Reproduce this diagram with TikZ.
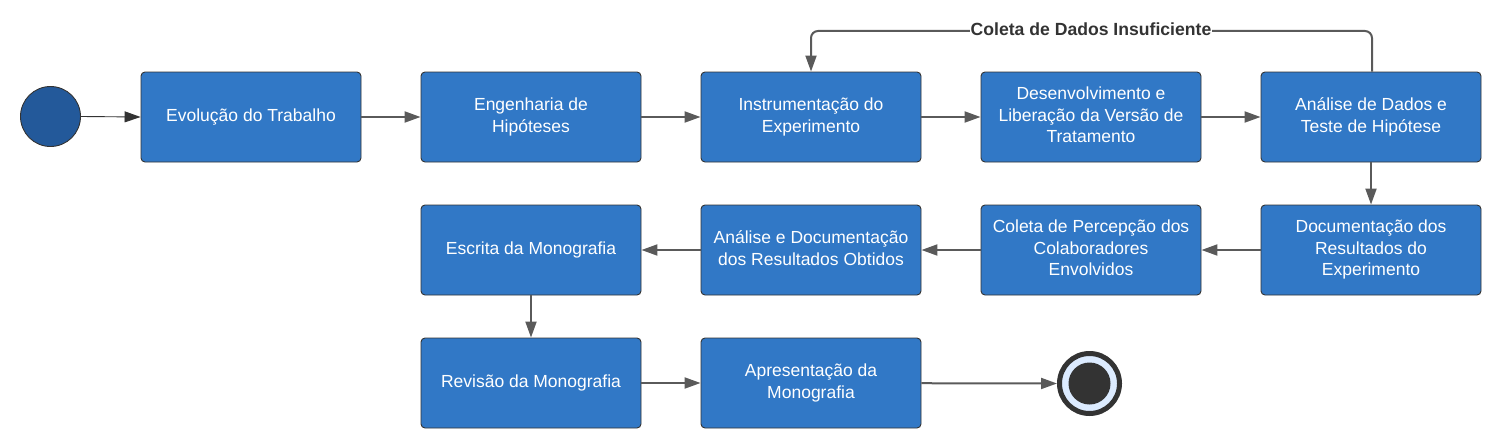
\documentclass[tikz,border=0pt]{standalone}
\usepackage{fontspec}
\setmainfont{Liberation Sans}
\usetikzlibrary{arrows.meta}
\definecolor{boxblue}{HTML}{3178C6}
\definecolor{startblue}{HTML}{23599A}
\definecolor{edgegray}{HTML}{333333}
\definecolor{arrgray}{HTML}{5A5A5A}
\definecolor{lightring}{HTML}{DCEBFF}
\newcommand\boxtxt[2][3pt]{\raisebox{#1}{\begin{tabular}{@{}c@{}}#2\end{tabular}}}
\begin{document}
\begin{tikzpicture}[x=1pt,y=-1pt,
  stepbox/.style={draw=edgegray, line width=0.9pt, fill=boxblue, rounded corners=4pt,
    minimum width=220pt, minimum height=90pt, inner sep=0pt, text=white, align=center,
    font=\fontsize{17.5}{21.5}\selectfont},
  flow/.style={draw=arrgray, line width=2pt, -{Triangle[length=16pt,width=11pt]}},
  startarr/.style={draw=edgegray, line width=0.9pt, -{Triangle[length=16pt,width=11pt]}}
]
\useasboundingbox (0,0) rectangle (1506,444);
% nodes
\node[circle, draw=edgegray, line width=0.9pt, fill=startblue, minimum size=60pt, inner sep=0pt] (start) at (50.5,116.5) {};
\node[stepbox] (b1) at (251,117) {\boxtxt{Evolução do Trabalho}};
\node[stepbox] (b2) at (531,117) {\boxtxt{Engenharia de\\Hipóteses}};
\node[stepbox] (b3) at (811,117) {\boxtxt{Instrumentação do\\Experimento}};
\node[stepbox] (b4) at (1091,117) {\boxtxt[1.5pt]{Desenvolvimento e\\Liberação da Versão de\\Tratamento}};
\node[stepbox] (b5) at (1371,117) {\boxtxt{Análise de Dados e\\Teste de Hipótese}};
\node[stepbox] (b6) at (1371,250) {\boxtxt[0pt]{Documentação dos\\Resultados do\\Experimento}};
\node[stepbox] (b7) at (1091,250) {\boxtxt[0pt]{Coleta de Percepção dos\\Colaboradores\\Envolvidos}};
\node[stepbox] (b8) at (811,250) {\boxtxt{Análise e Documentação\\dos Resultados Obtidos}};
\node[stepbox] (b9) at (531,250) {\boxtxt{Escrita da Monografia}};
\node[stepbox] (b10) at (531,383) {\boxtxt{Revisão da Monografia}};
\node[stepbox] (b11) at (811,383) {\boxtxt{Apresentação da\\Monografia}};
% end node
\node[circle, draw=edgegray, line width=5pt, fill=lightring, minimum size=60pt, inner sep=0pt] (end) at (1089.5,383.5) {};
\node[circle, fill=edgegray, minimum size=42pt, inner sep=0pt] (endin) at (end.center) {};
% connectors
\draw[startarr] (start.east) -- (b1.west);
\draw[flow] (b1) -- (b2);
\draw[flow] (b2) -- (b3);
\draw[flow] (b3) -- (b4);
\draw[flow] (b4) -- (b5);
\draw[flow] (b5) -- (b6);
\draw[flow] (b6) -- (b7);
\draw[flow] (b7) -- (b8);
\draw[flow] (b8) -- (b9);
\draw[flow] (b9) -- (b10);
\draw[flow] (b10) -- (b11);
\draw[flow] (b11) -- (end.west);
\coordinate (loopR) at (1372,31);
\coordinate (loopL) at (811,31);
\draw[flow, rounded corners=7pt] ([xshift=1pt]b5.north) -- (loopR) -- (loopL) -- (b3.north);
\node[fill=white, inner sep=1pt, text=edgegray, font=\bfseries\fontsize{17.6}{20}\selectfont] (lbl) at (1091,29) {Coleta de Dados Insuficiente};
\end{tikzpicture}
\end{document}
